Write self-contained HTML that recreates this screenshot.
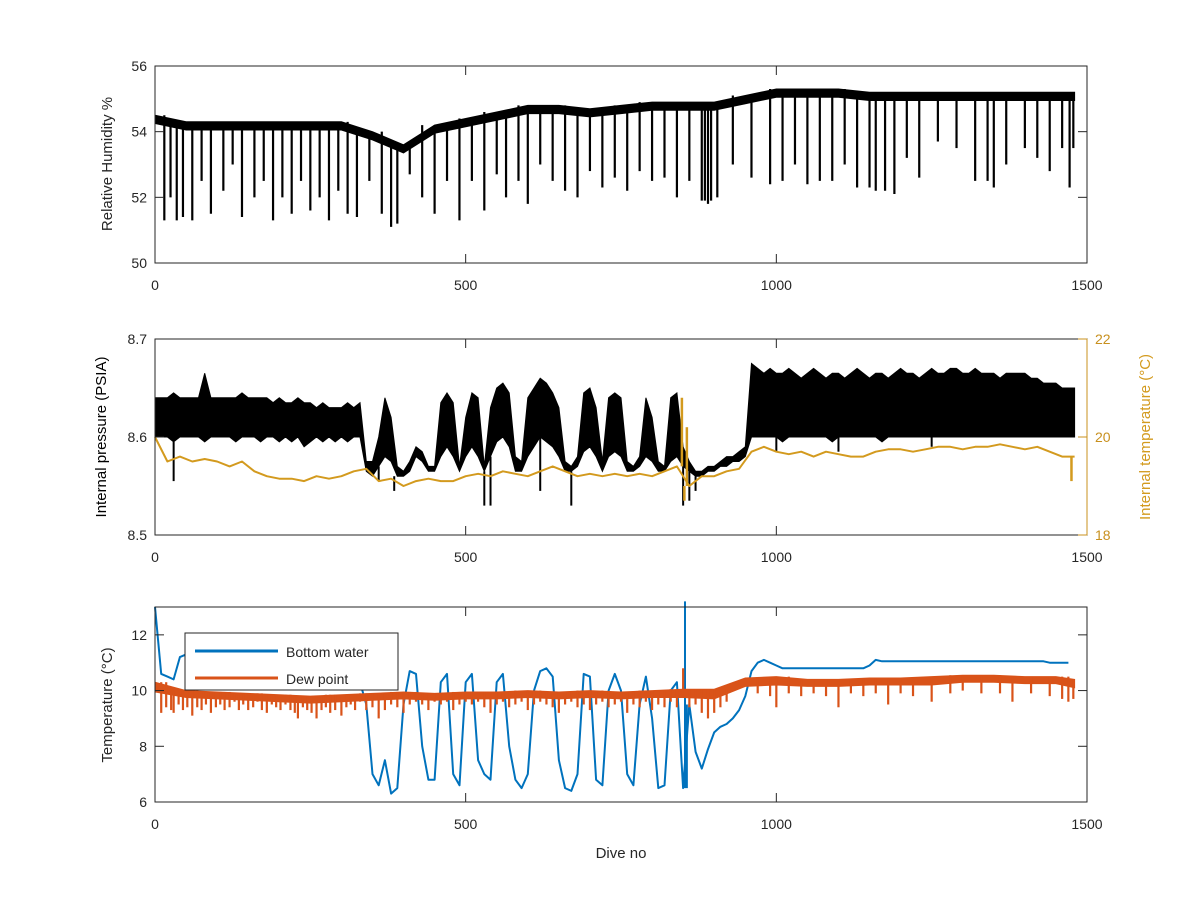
<!DOCTYPE html>
<html><head><meta charset="utf-8"><style>
body{margin:0;background:#fff}
svg text{font-family:"Liberation Sans",sans-serif;font-size:14px;fill:#262626}
</style></head><body>
<svg id="c" width="1200" height="900" xmlns="http://www.w3.org/2000/svg"></svg>
<script>
// ---- data ----
const xTicks=[0,500,1000,1500];
const rhTicks=[50,52,54,56];
const pTicks=[8.5,8.6,8.7];
const tTicks=[18,20,22];
const btTicks=[6,8,10,12];
// RH top envelope every 50 dives
const rhTop=[54.5,54.3,54.3,54.3,54.3,54.3,54.3,54.0,53.6,54.2,54.4,54.6,54.8,54.8,54.7,54.8,54.9,54.9,54.9,55.1,55.3,55.3,55.3,55.2,55.2,55.2,55.2,55.2,55.2,55.2,55.2];
const rhSpikes=[[15,51.3],[25,52],[35,51.3],[45,51.4],[60,51.3],[75,52.5],[90,51.5],[110,52.2],[125,53],[140,51.4],[160,52],[175,52.5],[190,51.3],[205,52],[220,51.5],[235,52.5],[250,51.6],[265,52],[280,51.3],[295,52.2],[310,51.5],[325,51.4],[345,52.5],[365,51.5],[380,51.1],[390,51.2],[410,52.7],[430,52],[450,51.5],[470,52.5],[490,51.3],[510,52.5],[530,51.6],[550,52.7],[565,52],[585,52.5],[600,51.8],[620,53],[640,52.5],[660,52.2],[680,52],[700,52.8],[720,52.3],[740,52.6],[760,52.2],[780,52.8],[800,52.5],[820,52.6],[840,52],[860,52.5],[880,51.9],[885,51.9],[890,51.8],[895,51.9],[905,52],[930,53],[960,52.6],[990,52.4],[1010,52.5],[1030,53],[1050,52.4],[1070,52.5],[1090,52.5],[1110,53],[1130,52.3],[1150,52.3],[1160,52.2],[1175,52.2],[1190,52.1],[1210,53.2],[1230,52.6],[1260,53.7],[1290,53.5],[1320,52.5],[1340,52.5],[1350,52.3],[1370,53],[1400,53.5],[1420,53.2],[1440,52.8],[1460,53.5],[1472,52.3],[1478,53.5]];
// pressure envelopes every 10 dives (0..1480)
const pHi=[8.64,8.64,8.64,8.645,8.64,8.64,8.64,8.64,8.665,8.64,8.64,8.64,8.64,8.64,8.645,8.64,8.64,8.64,8.64,8.635,8.64,8.635,8.635,8.64,8.635,8.635,8.63,8.635,8.63,8.63,8.63,8.635,8.63,8.635,
8.575,8.575,8.60,8.64,8.62,8.57,8.565,8.575,8.59,8.585,8.57,8.57,8.635,8.645,8.635,8.57,8.62,8.645,8.64,8.57,8.63,8.65,8.655,8.645,8.58,8.575,8.64,8.65,8.66,8.655,8.645,8.63,8.575,8.57,8.58,8.645,8.65,8.63,8.575,8.64,8.645,8.64,8.575,8.57,8.58,8.64,8.62,8.575,8.57,8.64,8.645,8.59,8.575,8.565,8.565,8.57,8.57,8.575,8.58,8.58,8.585,8.59,
8.675,8.67,8.665,8.67,8.665,8.665,8.67,8.665,8.66,8.665,8.67,8.665,8.66,8.665,8.665,8.66,8.665,8.67,8.665,8.66,8.665,8.665,8.66,8.665,8.67,8.665,8.665,8.66,8.665,8.67,8.665,8.665,8.67,8.67,8.665,8.665,8.67,8.665,8.665,8.665,8.66,8.665,8.665,8.665,8.665,8.66,8.66,8.655,8.655,8.655,8.65,8.65,8.65];
const pLo=[8.60,8.60,8.60,8.595,8.60,8.60,8.60,8.60,8.595,8.60,8.60,8.60,8.60,8.595,8.60,8.60,8.60,8.595,8.60,8.60,8.595,8.60,8.595,8.60,8.59,8.595,8.60,8.595,8.60,8.595,8.60,8.595,8.60,8.60,
8.565,8.56,8.57,8.58,8.575,8.56,8.56,8.565,8.58,8.575,8.565,8.565,8.58,8.59,8.58,8.565,8.58,8.59,8.58,8.565,8.58,8.595,8.60,8.59,8.565,8.565,8.58,8.59,8.60,8.595,8.59,8.58,8.565,8.565,8.57,8.585,8.59,8.58,8.565,8.58,8.585,8.58,8.565,8.565,8.57,8.58,8.575,8.565,8.565,8.575,8.58,8.57,8.565,8.56,8.56,8.565,8.565,8.57,8.57,8.575,8.575,8.58,
8.60,8.60,8.60,8.60,8.60,8.595,8.60,8.60,8.60,8.60,8.60,8.60,8.60,8.595,8.60,8.60,8.60,8.60,8.60,8.60,8.60,8.595,8.60,8.60,8.60,8.60,8.60,8.60,8.60,8.60,8.60,8.60,8.60,8.60,8.60,8.60,8.60,8.60,8.60,8.60,8.60,8.60,8.60,8.60,8.60,8.60,8.60,8.60,8.60,8.60,8.60,8.60,8.60];
const pSpikes=[[30,8.555],[360,8.555],[385,8.545],[530,8.53],[540,8.53],[620,8.545],[670,8.53],[850,8.53],[860,8.535],[870,8.545],[1000,8.585],[1100,8.585],[1250,8.59]];
// internal temperature every 20 dives
const tInt=[20.0,19.5,19.6,19.5,19.55,19.5,19.4,19.5,19.3,19.2,19.15,19.15,19.1,19.2,19.15,19.2,19.3,19.35,19.1,19.15,19.0,19.1,19.15,19.1,19.1,19.2,19.25,19.2,19.3,19.25,19.2,19.3,19.4,19.3,19.2,19.25,19.2,19.25,19.2,19.25,19.2,19.3,19.4,19.0,19.2,19.2,19.3,19.35,19.7,19.8,19.7,19.65,19.7,19.6,19.7,19.65,19.6,19.6,19.7,19.75,19.75,19.7,19.75,19.8,19.8,19.75,19.8,19.8,19.85,19.8,19.75,19.8,19.7,19.6,19.6];
const tSpikes=[[848,20.8],[852,18.7],[856,20.2],[1475,19.1]];
// bottom water every 10 dives
const bw=[13,10.6,10.5,10.4,11.2,11.3,11.0,10.8,10.7,10.6,10.3,10.3,10.3,10.3,10.3,10.3,10.3,10.3,10.3,10.3,10.3,10.3,10.3,10.3,10.3,10.3,10.3,10.3,10.3,10.3,10.3,10.3,10.3,10.3,
9.5,7.0,6.6,7.5,6.3,6.5,9.5,10.7,10.6,8.0,6.8,6.8,10.3,10.6,7.0,6.6,10.3,10.6,7.5,7.0,6.8,10.3,10.6,8.0,6.8,6.5,7.0,10.0,10.7,10.8,10.5,7.5,6.5,6.4,7.0,10.6,10.5,6.8,6.6,10.0,10.6,10.0,7.0,6.6,9.5,10.5,9.0,6.5,6.6,10.0,10.3,6.5,9.5,7.8,7.2,7.9,8.5,8.7,8.8,9.0,9.3,9.8,
10.7,11.0,11.1,11.0,10.9,10.8,10.8,10.8,10.8,10.8,10.8,10.8,10.8,10.8,10.8,10.8,10.8,10.8,10.8,10.9,11.1,11.05,11.05,11.05,11.05,11.05,11.05,11.05,11.05,11.05,11.05,11.05,11.05,11.05,11.05,11.05,11.05,11.05,11.05,11.05,11.05,11.05,11.05,11.05,11.05,11.05,11.05,11.05,11.0,11.0,11.0,11.0];
const bwSpikes=[[853,13.2],[856,6.5]];
// dew point envelopes every 50 dives
const dpHi=[10.3,10.0,9.95,9.9,9.85,9.8,9.85,9.9,9.95,9.9,9.95,9.95,10.0,9.95,10.0,9.95,10.0,10.05,10.05,10.45,10.5,10.4,10.4,10.45,10.45,10.5,10.55,10.55,10.5,10.5,10.4];
const dpLo=[9.95,9.75,9.7,9.65,9.6,9.55,9.6,9.65,9.7,9.65,9.7,9.7,9.75,9.7,9.75,9.7,9.75,9.75,9.7,10.15,10.2,10.15,10.15,10.2,10.2,10.2,10.3,10.3,10.25,10.25,10.1];
const dpSpikes=[[10,9.2],[18,9.4],[26,9.3],[30,9.2],[38,9.5],[45,9.3],[52,9.4],[60,9.1],[68,9.4],[75,9.3],[82,9.5],[90,9.2],[98,9.4],[105,9.5],[112,9.3],[120,9.4],[128,9.6],[135,9.3],[142,9.5],[150,9.3],[158,9.4],[165,9.6],[172,9.3],[180,9.2],[188,9.5],[195,9.4],[202,9.3],[210,9.5],[218,9.3],[225,9.2],[230,9.0],[238,9.4],[245,9.3],[252,9.2],[260,9.0],[268,9.3],[275,9.4],[282,9.2],[290,9.3],[300,9.1],[308,9.4],[315,9.5],[322,9.3],[330,9.6],[340,9.3],[350,9.4],[360,9.0],[370,9.3],[380,9.5],[390,9.4],[400,9.2],[410,9.5],[420,9.6],[430,9.5],[440,9.3],[450,9.6],[460,9.5],[470,9.6],[480,9.3],[490,9.5],[500,9.6],[510,9.5],[520,9.6],[530,9.4],[540,9.2],[550,9.5],[560,9.6],[570,9.4],[580,9.5],[590,9.6],[600,9.3],[610,9.5],[620,9.6],[630,9.5],[640,9.4],[650,9.2],[660,9.5],[670,9.6],[680,9.4],[690,9.5],[700,9.3],[710,9.5],[720,9.6],[730,9.4],[740,9.5],[750,9.6],[760,9.2],[770,9.5],[780,9.4],[790,9.6],[800,9.3],[810,9.5],[820,9.4],[830,9.6],[840,9.4],[850,10.8],[860,9.4],[870,9.5],[880,9.2],[890,9.0],[900,9.2],[910,9.4],[920,9.6],[970,9.9],[990,9.8],[1000,9.4],[1020,9.9],[1040,9.8],[1060,9.9],[1080,9.8],[1100,9.4],[1120,9.9],[1140,9.8],[1160,9.9],[1180,9.5],[1200,9.9],[1220,9.8],[1250,9.6],[1280,9.9],[1300,10.0],[1330,9.9],[1360,9.9],[1380,9.6],[1410,9.9],[1440,9.8],[1460,9.7],[1470,9.6],[1478,9.7]];

// ---- drawing ----
const svg=document.getElementById('c');const NS='http://www.w3.org/2000/svg';
function el(t,a,p){const e=document.createElementNS(NS,t);for(const k in a)e.setAttribute(k,a[k]);(p||svg).appendChild(e);return e;}
const X0=155,X1=1087;
const xs=d=>X0+d/1500*(X1-X0);
function ys(top,bot,lo,hi){return v=>bot-(v-lo)/(hi-lo)*(bot-top);}
const dv=(i,step)=>Math.min(i*step,1480);
function band(g,hiA,loA,step,y,col){
  let pts=hiA.map((v,i)=>xs(dv(i,step)).toFixed(1)+','+y(v).toFixed(1));
  for(let i=loA.length-1;i>=0;i--)pts.push(xs(dv(i,step)).toFixed(1)+','+y(loA[i]).toFixed(1));
  return el('polygon',{points:pts.join(' '),fill:col,stroke:col,'stroke-width':1},g);
}
function line(g,arr,step,y,col,w){
  return el('polyline',{points:arr.map((v,i)=>xs(dv(i,step)).toFixed(1)+','+y(v).toFixed(1)).join(' '),fill:'none',stroke:col,'stroke-width':w,'stroke-linejoin':'round'},g);
}
function spikes(g,list,baseArr,step,y,col,w){
  list.forEach(s=>{
    const i=Math.min(Math.round(s[0]/step),baseArr.length-1);
    const l=el('line',{x1:xs(s[0]),x2:xs(s[0]),y1:y(baseArr[i]),y2:y(s[1]),stroke:col,'stroke-width':w},g);
    
    
  });
}
function axes(name,top,bot,yTicks,y,rightTicks,yr,rcol){
  const g=el('g',{});
  
  
  el('rect',{x:X0,y:top,width:X1-X0,height:bot-top,fill:'none',stroke:'#262626','stroke-width':1},g);
  xTicks.forEach(t=>{
    el('line',{x1:xs(t),x2:xs(t),y1:bot,y2:bot-9,stroke:'#262626'},g);
    el('line',{x1:xs(t),x2:xs(t),y1:top,y2:top+9,stroke:'#262626'},g);
    const tx=el('text',{x:xs(t),y:bot+27,'text-anchor':'middle'},g);tx.textContent=t;
    
    
  });
  yTicks.forEach(t=>{
    el('line',{x1:X0,x2:X0+9,y1:y(t),y2:y(t),stroke:'#262626'},g);
    if(!rightTicks)el('line',{x1:X1,x2:X1-9,y1:y(t),y2:y(t),stroke:'#262626'},g);
    const tx=el('text',{x:X0-8,y:y(t)+5,'text-anchor':'end'},g);tx.textContent=t;
    
    
  });
  if(rightTicks){rightTicks.forEach(t=>{
    el('line',{x1:X1,x2:X1-9,y1:yr(t),y2:yr(t),stroke:rcol},g);
    const tx=el('text',{x:X1+8,y:yr(t)+5,style:'fill:'+rcol},g);tx.textContent=t;
    
    
  });
  el('line',{x1:X1,x2:X1,y1:top,y2:bot,stroke:rcol},g);}
  return g;
}
function ylabel(txt,x,cy,col,name){
  const t=el('text',{x:x,y:cy,'text-anchor':'middle',transform:`rotate(-90 ${x} ${cy})`,style:'font-size:15px'+(col?';fill:'+col:'')});
  t.textContent=txt;
  
  
}
// Panel 1
const y1=ys(66,263,50,56);
const g1=el('g',{});


band(g1,rhTop,rhTop.map(v=>v-0.25),50,y1,'#000');
spikes(g1,rhSpikes,rhTop,50,y1,'#000',2.2);
axes('humidity',66,263,rhTicks,y1);
ylabel('Relative Humidity %',112,164,null,'humidity-y-axis-title');
// Panel 2
const y2=ys(339,535,8.5,8.7), y2r=ys(339,535,18,22);
const TC='#D39A1E';
const g2=el('g',{});


band(g2,pHi,pLo,10,y2,'#000');
spikes(g2,pSpikes,pLo,10,y2,'#000',2);
const g2b=el('g',{});


line(g2b,tInt,20,y2r,TC,2);
spikes(g2b,tSpikes,tInt,20,y2r,TC,2.5);
axes('pressure',339,535,pTicks,y2,tTicks,y2r,'#C8901E');
ylabel('Internal pressure (PSIA)',106,437,'#000','pressure-y-axis-title');
ylabel('Internal temperature (°C)',1150,437,TC,'temperature-right-axis-title');
// Panel 3
const y3=ys(607,802,6,13);
const g3=el('g',{});


line(g3,bw,10,y3,'#0072BD',2);
spikes(g3,bwSpikes,bw,10,y3,'#0072BD',2);
const g3b=el('g',{});


band(g3b,dpHi,dpLo,50,y3,'#D95319');
spikes(g3b,dpSpikes,dpHi,50,y3,'#D95319',2.2);
axes('temperature',607,802,btTicks,y3);
ylabel('Temperature (°C)',112,705,null,'temperature-y-axis-title');
const xl=el('text',{x:621,y:858,'text-anchor':'middle',style:'font-size:15px'});xl.textContent='Dive no';


// legend
const lg=el('g',{});


el('rect',{x:185,y:633,width:213,height:57,fill:'#fff',stroke:'#262626'},lg);
el('line',{x1:195,x2:278,y1:651,y2:651,stroke:'#0072BD','stroke-width':3},lg);
el('line',{x1:195,x2:278,y1:678,y2:678,stroke:'#D95319','stroke-width':3},lg);
const l1=el('text',{x:286,y:657},lg);l1.textContent='Bottom water';


const l2=el('text',{x:286,y:684},lg);l2.textContent='Dew point';


</script>
</body></html>
